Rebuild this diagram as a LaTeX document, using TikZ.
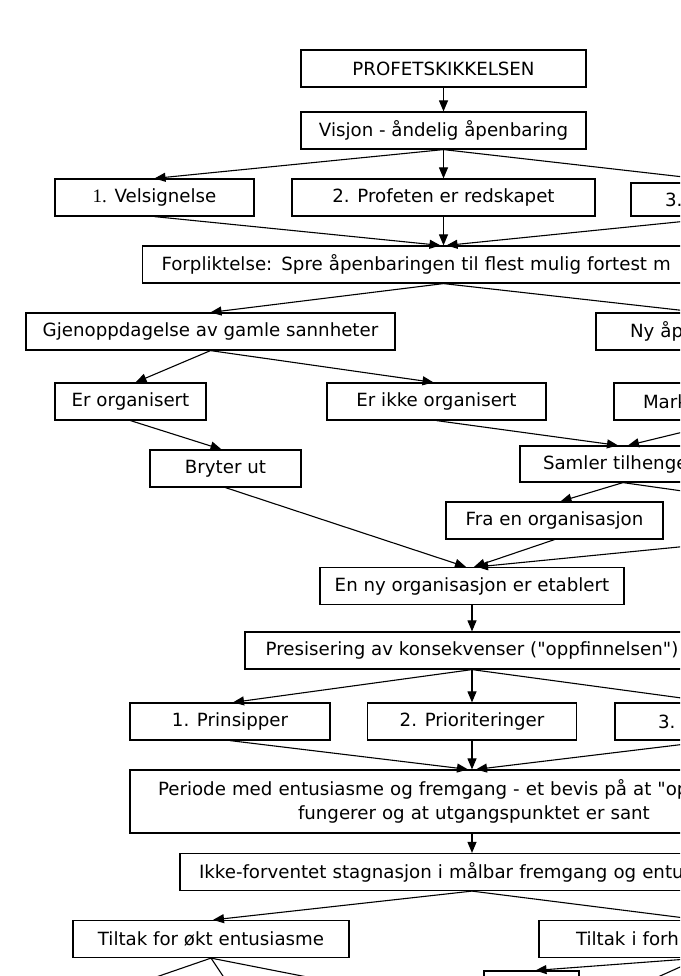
\documentclass[tikz,border=0pt]{standalone}
\usepackage{fontspec}
\setmainfont{DejaVu Sans}
\newfontfamily\serifone{Liberation Serif}
\usetikzlibrary{arrows.meta,calc}
\newcommand{\dq}{\XeTeXglyph\XeTeXglyphindex "quotedbl"\relax}
\begin{document}
\begin{tikzpicture}[x=1pt,y=-1pt,
  box/.style={draw=black, line width=1.2pt, inner sep=0pt, minimum height=37pt, font=\fontsize{18.2}{23.5}\selectfont},
  arr/.style={line width=1.1pt, -{Triangle[length=11pt,width=9pt]}},
  ln/.style={line width=1.1pt}]
\useasboundingbox (0,0) rectangle (680,976);
\clip (0,0) rectangle (680,976);
% nodes
\node[box, minimum width=285pt] (p0) at (443.5,68.5) {PROFETSKIKKELSEN};
\node[box, minimum width=285pt] (p1) at (443.5,130.5) {Visjon - åndelig åpenbaring};
\node[box, minimum width=199pt] (v1) at (154.5,197.5) {{\serifone\fontsize{19}{23}\selectfont 1.} Velsignelse};
\node[box, minimum width=303pt] (v2) at (443.5,197.5) {2. Profeten er redskapet};
\node[box, minimum height=33pt, inner xsep=34pt, text width=132pt, align=left] (v3) at (731,199.5) {3.};
\node[box, inner xsep=19pt, text width=564pt, align=left] (fp) at (443.5,264.5) {Forpliktelse: Spre åpenbaringen til flest mulig fortest m};
\node[box, minimum width=369pt] (g1) at (210.5,331.5) {Gjenoppdagelse av gamle sannheter};
\node[box, inner xsep=34pt, text width=140pt, align=left] (g2) at (700,331.5) {Ny åp};
\node[box, minimum width=151pt] (o1) at (130.5,401.5) {Er organisert};
\node[box, minimum width=219pt] (o2) at (436.5,401.5) {Er ikke organisert};
\node[box, inner xsep=29pt, text width=174pt, align=left] (o3) at (730,401.5) {Mark};
\node[box, minimum width=151pt] (b1) at (225.5,468.5) {Bryter ut};
\node[box, minimum height=36pt, inner xsep=23pt, text width=160pt, align=left] (s1) at (623,464) {Samler tilhenge};
\node[box, minimum width=217pt] (f1) at (554.5,520.5) {Fra en organisasjon};
\coordinate (f2t) at (760,502);
\coordinate (f2b) at (760,539);
\node[box, minimum width=304pt] (e1) at (472,586) {En ny organisasjon er etablert};
\node[box, minimum width=454pt] (pr) at (472,650.5) {Presisering av konsekvenser (\dq oppfinnelsen\dq)};
\node[box, minimum width=200pt] (r1) at (230,721.5) {1. Prinsipper};
\node[box, minimum width=209pt] (r2) at (472,721.5) {2. Prioriteringer};
\node[box, inner xsep=43pt, text width=112pt, align=left] (r3) at (714,721.5) {3.};
\node[box, minimum height=63pt, inner xsep=28pt, text width=628pt, align=left] (pe) at (472,801.5) {Periode med entusiasme og fremgang - et bevis på at \dq op\\\hspace*{140pt}fungerer og at utgangspunktet er sant};
\node[box, inner xsep=19pt, text width=546pt, align=left] (ik) at (472,872) {Ikke-forventet stagnasjon i målbar fremgang og entu};
\node[box, minimum width=276pt] (t1) at (211,939) {Tiltak for økt entusiasme};
\node[box, inner xsep=37pt, text width=248pt, align=left] (t2) at (700,939) {Tiltak i forh};
\node[box, minimum width=95pt] (sb) at (531.5,989.5) {};
\coordinate (d1) at (133,985);
\coordinate (d2) at (229,985);
\coordinate (d3) at (348,985);
\coordinate (d4) at (640,985);
% connectors
\draw[arr] (p0) -- (p1);
\draw[arr] (p1.south) -- (v1.north);
\draw[arr] (p1.south) -- (v2.north);
\draw[arr] (p1.south) -- (v3.north);
\draw[arr] (v1.south) -- ($(fp.north)+(-3,0)$);
\draw[arr] (v2.south) -- (fp.north);
\draw[arr] (v3.south) -- ($(fp.north)+(3,0)$);
\draw[arr] (fp.south) -- (g1.north);
\draw[arr] (fp.south) -- (g2.north);
\draw[arr] (g1.south) -- ($(o1.north)+(5,0)$);
\draw[arr] (g1.south) -- ($(o2.north)+(-3,0)$);
\draw[arr] (o1.south) -- ($(b1.north)+(-4,0)$);
\draw[arr] (o2.south) -- ($(s1.north)+(-5,0)$);
\draw[arr] (o3.south) -- ($(s1.north)+(5,0)$);
\draw[arr] (s1.south) -- ($(f1.north)+(6,0)$);
\draw[ln] (s1.south) -- (f2t);
\draw[arr] (b1.south) -- ($(e1.north)+(-6,0)$);
\draw[arr] (f1.south) -- ($(e1.north)+(2,0)$);
\draw[arr] (f2b) -- ($(e1.north)+(5,0)$);
\draw[arr] (e1) -- (pr);
\draw[arr] (pr.south) -- ($(r1.north)+(3,0)$);
\draw[arr] (pr.south) -- (r2.north);
\draw[arr] (pr.south) -- (r3.north);
\draw[arr] (r1.south) -- ($(pe.north)+(-4,0)$);
\draw[arr] (r2.south) -- (pe.north);
\draw[arr] (r3.south) -- ($(pe.north)+(4,0)$);
\draw[arr] (pe) -- (ik);
\draw[arr] (ik.south) -- ($(t1.north)+(2,0)$);
\draw[arr] (ik.south) -- (t2.north);
\draw[ln] (t1.south) -- (d1);
\draw[ln] (t1.south) -- (d2);
\draw[ln] (t1.south) -- (d3);
\draw[arr] (t2.south) -- ($(sb.north)+(4,0)$);
\draw[ln] (t2.south) -- (d4);
\end{tikzpicture}
\end{document}
